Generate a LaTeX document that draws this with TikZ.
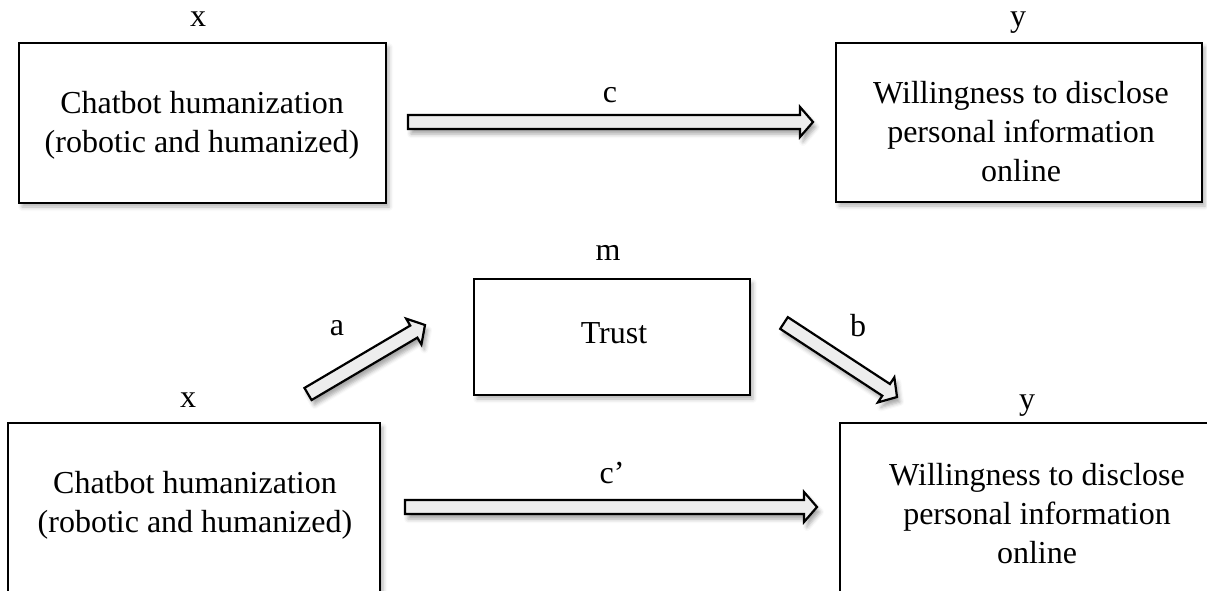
\documentclass[tikz,border=0pt]{standalone}
\usepackage{fontspec}
\setmainfont{Liberation Serif}
\usetikzlibrary{calc,shadows.blur}
\tikzset{
  box/.style={draw, line width=2.4pt, fill=white, inner sep=0pt,
    blur shadow={shadow xshift=3pt, shadow yshift=-4pt, shadow blur radius=4pt, shadow opacity=30}},
  txt/.style={align=center, inner sep=0pt},
  lbl/.style={anchor=base, inner sep=0pt},
  barrow/.style={draw, line width=2.2pt, line join=miter, fill=gray!14,
    blur shadow={shadow xshift=3pt, shadow yshift=-5pt, shadow blur radius=4pt, shadow opacity=35}},
  every node/.style={font=\fontsize{32}{39}\selectfont}
}
\newcommand\blockarrow[2]{%
  \coordinate (hb) at ($(#2)!13pt!(#1)$);
  \draw[barrow] ($(#1)!7pt!90:(#2)$) -- ($(hb)!7pt!90:(#2)$) -- ($(hb)!15pt!90:(#2)$)
    -- (#2) -- ($(hb)!15pt!-90:(#2)$) -- ($(hb)!7pt!-90:(#2)$) -- ($(#1)!7pt!-90:(#2)$) -- cycle;
}
\begin{document}
\begin{tikzpicture}[x=1pt,y=-1pt]
\useasboundingbox (0,0) rectangle (1207,591);
% top row
\node[box, minimum width=367pt, minimum height=160pt] (x1) at (202.5,123) {};
\node[txt] (x1t) at (202,125) {Chatbot humanization\\(robotic and humanized)};
\node[box, minimum width=366pt, minimum height=159pt] (y1) at (1019,122.5) {};
\node[txt] (y1t) at (1021,132) {Willingness to disclose\\personal information\\online};
\node[lbl] (x1l) at (198,27) {x};
\node[lbl] (y1l) at (1018,27) {y};
\node[lbl] (cl) at (610,103) {c};
% middle
\node[box, minimum width=276pt, minimum height=116pt] (m) at (612,337) {};
\node[txt] (mt) at (614,333) {Trust};
\node[lbl] (ml) at (608,260) {m};
\node[lbl] (al) at (337,335) {a};
\node[lbl] (bl) at (858,336) {b};
% bottom row
\node[box, minimum width=372pt, minimum height=170pt] (x2) at (194,508) {};
\node[txt] (x2t) at (195,505) {Chatbot humanization\\(robotic and humanized)};
\node[box, minimum width=394pt, minimum height=170pt] (y2) at (1037,508) {};
\node[txt] (y2t) at (1037,514) {Willingness to disclose\\personal information\\online};
\node[lbl] (x2l) at (188,407) {x};
\node[lbl] (y2l) at (1027,409) {y};
\node[lbl] (cpl) at (612,483) {c’};
% arrows
\coordinate (c0) at (408,122);  \coordinate (c1) at (813,122);
\coordinate (cp0) at (405,507); \coordinate (cp1) at (817,507);
\coordinate (a0) at (308,394);  \coordinate (a1) at (425,325);
\coordinate (b0) at (784,323);  \coordinate (b1) at (897,397);
\blockarrow{c0}{c1}
\blockarrow{cp0}{cp1}
\blockarrow{a0}{a1}
\blockarrow{b0}{b1}
\end{tikzpicture}
\end{document}
